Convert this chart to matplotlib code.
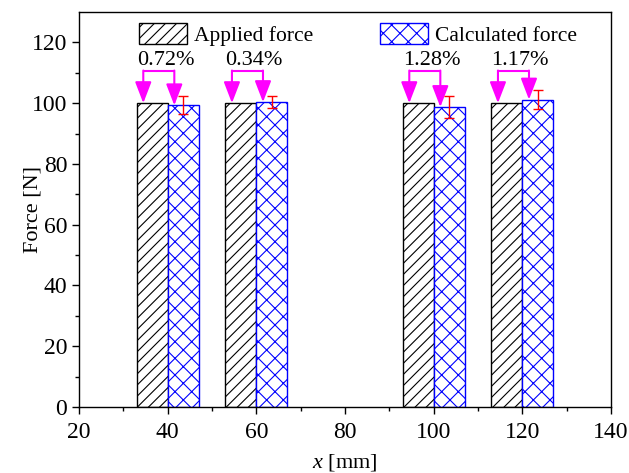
import matplotlib
matplotlib.use("Agg")
import matplotlib.pyplot as plt
import numpy as np

plt.rcParams['font.family'] = ['Liberation Serif', 'DejaVu Serif']
plt.rcParams['mathtext.fontset'] = 'custom'
plt.rcParams['mathtext.rm'] = 'Liberation Serif'
plt.rcParams['mathtext.it'] = 'Liberation Serif:italic'
plt.rcParams['hatch.linewidth'] = 0.8

positions = [40, 60, 100, 120]
applied = [100, 100, 100, 100]
calculated = [99.28, 100.34, 98.72, 101.17]
errors = [3.0, 2.0, 3.5, 3.2]
diff_labels = ['0.72%', '0.34%', '1.28%', '1.17%']

fig = plt.figure(figsize=(6.29, 4.73), dpi=100)
ax = fig.add_axes([0.1256, 0.1395, 0.9714 - 0.1256, 0.9746 - 0.1395])

w = 7
pos = np.array(positions, dtype=float)
ax.bar(pos - w / 2, applied, width=w, facecolor='white', edgecolor='black',
       hatch='///', linewidth=1.0, label='Applied force')
plt.rcParams['hatch.color'] = 'blue'
ax.bar(pos + w / 2, calculated, width=w, facecolor='white', edgecolor='blue',
       hatch='xx', linewidth=1.0, label='Calculated force')
ax.errorbar(pos + w / 2, calculated, yerr=errors, fmt='none', ecolor='red',
            elinewidth=1.0, capsize=3.5, capthick=1.0, zorder=5)

ybr = 110.5
for p, a, c, lab in zip(pos, applied, calculated, diff_labels):
    xl, xr = p - 5.5, p + 1.5
    ax.plot([xl, xr], [ybr, ybr], color='magenta', lw=1.5, solid_capstyle='butt')
    for xx, top in ((xl, a), (xr, c)):
        ax.annotate('', xy=(xx, top), xytext=(xx, ybr + 0.25),
                    arrowprops=dict(arrowstyle='-|>,head_length=1.3,head_width=0.5',
                                    color='magenta', lw=1.5, shrinkA=0, shrinkB=0))
    ax.text(p - 0.5, ybr + 0.5, lab, ha='center', va='bottom', fontsize=16)

ax.set_xlim(20, 140)
ax.set_ylim(0, 130)
ax.set_xticks([20, 40, 60, 80, 100, 120, 140])
ax.set_yticks([0, 20, 40, 60, 80, 100, 120])
ax.set_xticks(np.arange(30, 140, 20), minor=True)
ax.set_yticks(np.arange(10, 130, 20), minor=True)
ax.tick_params(which='both', direction='out', labelsize=17, width=1.0)
ax.tick_params(which='major', length=5)
ax.tick_params(which='minor', length=3)
ax.tick_params(axis='x', pad=6)
for s in ax.spines.values():
    s.set_linewidth(1.0)

ax.set_ylabel('Force [N]', fontsize=16, labelpad=-8)
ax.set_xlabel('$x$ [mm]', fontsize=16, labelpad=6)

ax.legend(loc='upper left', bbox_to_anchor=(0.077, 1.02), ncol=2, frameon=False,
          fontsize=15.5, handlelength=2.2, handleheight=1.1, columnspacing=3.1,
          handletextpad=0.35)

fig.savefig('out.png', dpi=100)
